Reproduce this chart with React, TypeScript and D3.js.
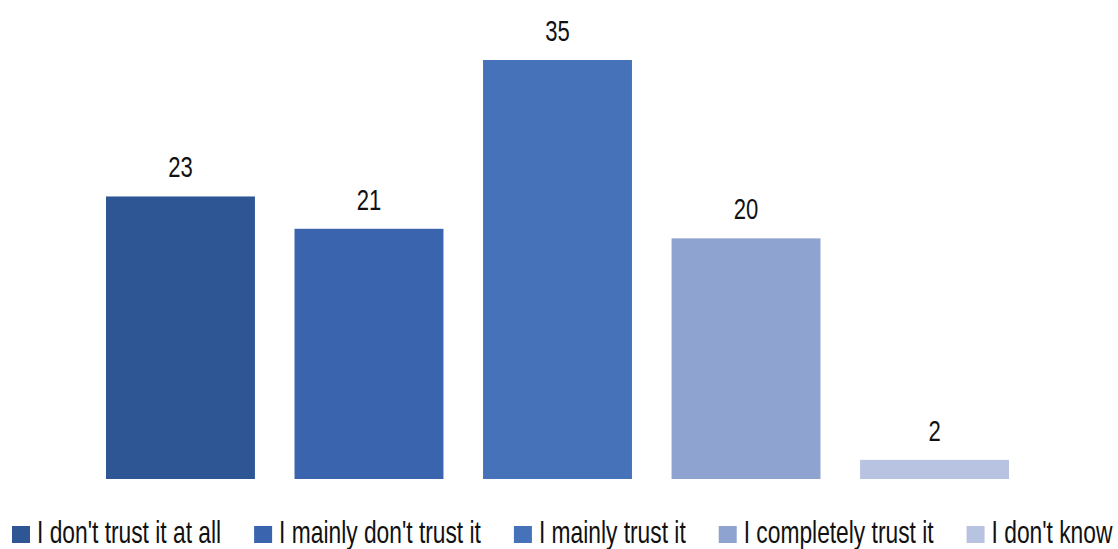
import React, { useEffect, useRef } from "react";
import * as d3 from "d3";

const categories = [
  "I don't trust it at all",
  "I mainly don't trust it",
  "I mainly trust it",
  "I completely trust it",
  "I don't know",
];
const values = [23.6, 20.9, 35, 20.1, 1.6];
const labels = ["23", "21", "35", "20", "2"];
const colors = ["#2E5594", "#3A65AE", "#4672B9", "#8FA3D1", "#B8C3E1"];

const W = 1118;
const H = 549;
const FONT = "'Liberation Sans', Arial, sans-serif";

export default function App() {
  const ref = useRef<SVGSVGElement | null>(null);

  useEffect(() => {
    const svg = d3.select(ref.current);
    svg.selectAll("*").remove();

    const LEG_LEFT = 12;
    const LEG_RIGHT = 1113;
    const SW = 18;
    const TXT_OFF = 25;
    const GAP = 33;

    // measure legend texts, then compress horizontally to emulate condensed face
    let sumW = 0;
    categories.forEach((c) => {
      const p = svg.append("text").attr("font-family", FONT).attr("font-size", 31).text(c);
      sumW += (p.node() as SVGTextElement).getComputedTextLength();
      p.remove();
    });
    const k = (LEG_RIGHT - LEG_LEFT - categories.length * TXT_OFF - (categories.length - 1) * GAP) / sumW;

    const x = d3.scaleBand<string>().domain(categories).range([106, 1009]).paddingInner(0.21).paddingOuter(0);
    const y = d3.scaleLinear().domain([0, 35]).range([479, 60]);

    const data = categories.map((c, i) => ({ c, v: values[i], l: labels[i], col: colors[i] }));

    svg
      .append("g")
      .selectAll("rect")
      .data(data)
      .join("rect")
      .attr("x", (d) => x(d.c)!)
      .attr("y", (d) => y(d.v))
      .attr("width", x.bandwidth())
      .attr("height", (d) => y(0) - y(d.v))
      .attr("fill", (d) => d.col);

    svg
      .append("g")
      .selectAll("text")
      .data(data)
      .join("text")
      .attr(
        "transform",
        (d) => `translate(${x(d.c)! + x.bandwidth() / 2},${y(d.v) - 19}) scale(${k},1)`
      )
      .attr("text-anchor", "middle")
      .attr("font-family", FONT)
      .attr("font-size", 30)
      .attr("fill", "#111")
      .text((d) => d.l);

    const lg = svg.append("g");
    let cx = LEG_LEFT;
    data.forEach((d) => {
      lg.append("rect").attr("x", cx).attr("y", 526).attr("width", SW).attr("height", 17).attr("fill", d.col);
      const t = lg
        .append("text")
        .attr("transform", `translate(${cx + TXT_OFF},543) scale(${k},1)`)
        .attr("font-family", FONT)
        .attr("font-size", 31)
        .attr("fill", "#111")
        .text(d.c);
      const w = (t.node() as SVGTextElement).getComputedTextLength() * k;
      cx += TXT_OFF + w + GAP;
    });
  }, []);

  return (
    <svg
      ref={ref}
      width={W}
      height={H}
      style={{ position: "absolute", left: 0, top: 0, background: "#fff" }}
    />
  );
}
